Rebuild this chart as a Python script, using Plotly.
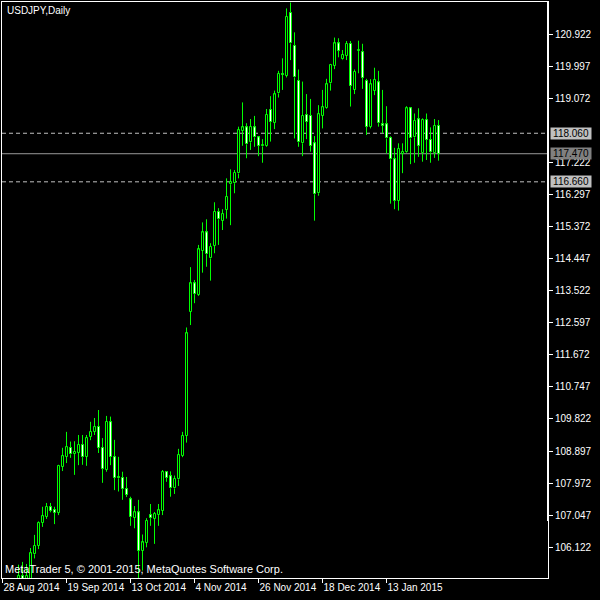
import plotly.graph_objects as go

# ---- data ----
first_bar = 4  # bars 0..3 (28 Aug - 2 Sep) lie below the visible price range
opens = [105.05, 105.30, 105.10, 105.10, 105.92, 106.16, 106.82, 107.00, 107.28, 107.20,
         107.11, 108.45, 108.73, 108.99, 108.81, 108.84, 109.07, 108.73, 109.31, 109.45,
         109.59, 108.99, 108.35, 109.73, 108.72, 108.15, 108.12, 107.80, 107.50, 106.97,
         107.13, 106.02, 106.25, 107.05, 106.94, 107.05, 107.18, 108.29, 108.17, 107.82,
         108.08, 108.76, 109.33, 112.92, 113.73, 113.40, 114.67, 115.20, 114.45, 114.81,
         115.80, 115.54, 115.85, 116.59, 116.62, 116.90, 118.13, 118.23, 117.80, 118.23,
         117.94, 117.68, 117.70, 118.73, 118.37, 119.21, 119.77, 119.72, 121.54, 120.59,
         119.58, 117.77, 118.59, 118.57, 117.77, 116.33, 118.57, 118.78, 119.50, 120.01,
         120.65, 120.19, 120.30, 120.64, 119.31, 120.43, 120.40, 119.57, 118.25, 119.28,
         119.53, 118.32, 118.32, 117.93, 117.31, 116.11, 117.47, 117.53, 118.78, 117.94,
         118.46, 117.48, 118.44, 117.87, 117.50, 118.28]
highs = [105.62, 105.70, 105.64, 106.10, 106.48, 106.87, 107.29, 107.40, 107.40, 107.29,
         108.50, 108.99, 109.45, 109.17, 109.18, 109.36, 109.36, 109.36, 109.74, 109.85,
         110.08, 109.27, 109.91, 109.89, 109.22, 108.73, 108.30, 108.15, 107.58, 107.31,
         107.49, 106.49, 106.96, 107.37, 107.14, 107.37, 108.35, 108.31, 108.31, 108.19,
         108.96, 109.45, 112.46, 114.20, 113.83, 114.84, 115.49, 115.58, 114.89, 116.07,
         115.90, 115.87, 116.76, 117.02, 117.00, 118.25, 118.95, 118.35, 118.47, 118.56,
         117.98, 117.89, 118.76, 119.13, 119.29, 119.86, 120.22, 121.66, 121.83, 120.97,
         119.90, 119.55, 119.19, 119.05, 117.98, 118.87, 119.31, 119.63, 120.06, 120.82,
         120.80, 120.46, 120.72, 120.72, 119.90, 120.73, 120.64, 119.63, 119.62, 119.95,
         119.86, 119.31, 118.84, 117.97, 117.64, 117.77, 117.77, 118.84, 118.81, 118.63,
         118.78, 118.49, 118.63, 118.23, 118.47, 118.44]
lows = [104.75, 104.85, 104.90, 104.95, 105.80, 106.07, 106.71, 106.94, 107.13, 106.79,
        107.05, 108.32, 108.55, 108.70, 108.21, 108.49, 108.50, 108.47, 109.21, 109.36,
        108.84, 107.98, 108.30, 108.49, 107.77, 107.73, 107.49, 107.57, 106.74, 106.67,
        105.22, 105.45, 106.12, 106.74, 106.22, 106.74, 107.05, 108.01, 107.58, 107.66,
        107.89, 108.72, 109.14, 112.53, 113.16, 113.37, 114.04, 114.21, 113.81, 114.60,
        114.84, 115.27, 115.60, 115.41, 116.33, 116.76, 117.70, 117.34, 117.58, 117.67,
        117.40, 117.21, 117.67, 117.82, 118.18, 119.09, 119.31, 119.67, 120.17, 117.91,
        117.67, 117.40, 117.89, 117.53, 115.54, 116.26, 118.20, 118.76, 119.29, 119.91,
        120.25, 120.17, 120.17, 118.83, 119.19, 119.79, 119.34, 118.01, 118.20, 119.16,
        118.25, 118.06, 117.48, 116.03, 115.87, 115.83, 116.91, 117.50, 117.17, 117.21,
        117.38, 117.24, 117.29, 117.21, 117.35, 117.27]
closes = [105.30, 105.10, 105.30, 105.95, 106.17, 106.82, 107.02, 107.29, 107.17, 107.12,
          108.47, 108.75, 109.01, 108.80, 108.88, 109.07, 108.72, 109.27, 109.45, 109.59,
          108.99, 108.38, 109.74, 108.72, 108.13, 108.11, 107.80, 107.63, 106.99, 107.13,
          106.02, 106.26, 106.88, 106.96, 107.08, 107.19, 108.29, 108.13, 107.82, 108.09,
          108.78, 109.33, 112.29, 113.73, 113.42, 114.71, 115.20, 114.57, 114.79, 115.80,
          115.58, 115.73, 116.23, 116.65, 116.92, 118.15, 118.23, 117.74, 118.25, 117.94,
          117.70, 117.72, 118.59, 118.38, 119.18, 119.77, 119.74, 121.42, 120.65, 119.67,
          117.80, 118.57, 118.39, 117.70, 116.30, 118.61, 118.81, 119.47, 120.03, 120.65,
          120.44, 120.32, 120.64, 119.43, 119.84, 120.47, 119.66, 118.25, 119.47, 119.60,
          118.35, 118.28, 117.91, 117.31, 116.11, 117.61, 117.52, 118.78, 117.91, 118.42,
          117.70, 118.44, 117.87, 117.51, 118.27, 117.47]

tick_bars = [0, 16, 32, 48, 64, 80, 96]
tick_dates = ["28 Aug 2014", "19 Sep 2014", "13 Oct 2014", "4 Nov 2014",
              "26 Nov 2014", "18 Dec 2014", "13 Jan 2015"]
price_ticks = [106.122, 107.047, 107.972, 108.897, 109.822, 110.747, 111.672, 112.597,
               113.522, 114.447, 115.372, 116.297, 117.222, 119.072, 119.997, 120.922]
level_upper = 118.060
level_last = 117.470
level_lower = 116.660
symbol_title = "USDJPY,Daily"
copyright_text = "MetaTrader 5, \u00a9 2001-2015, MetaQuotes Software Corp."

# ---- build ----
GREEN = "#00ff00"
bars_x = list(range(first_bar, first_bar + len(opens)))

body_top = [max(o, c) for o, c in zip(opens, closes)]
body_bot = [min(o, c) for o, c in zip(opens, closes)]

# wicks split above / below the body so the body interior stays visible
wick_x, wick_y = [], []
for k, h, l, t, b in zip(bars_x, highs, lows, body_top, body_bot):
    wick_x += [k, k, None, k, k, None]
    wick_y += [t, h, None, l, b, None]

size = [t - b for t, b in zip(body_top, body_bot)]
fills = ["#000000" if c >= o else "#ffffff" for o, c in zip(opens, closes)]

fig = go.Figure()
fig.add_trace(go.Scatter(x=wick_x, y=wick_y, mode="lines",
                         line=dict(color=GREEN, width=1), hoverinfo="skip"))
fig.add_trace(go.Bar(x=bars_x, y=size, base=body_bot, width=0.5,
                     marker=dict(color=fills, line=dict(color=GREEN, width=1))))

AX = "Liberation Sans, Arial, sans-serif"
AXS = 10

fig.update_layout(
    width=600, height=600,
    margin=dict(l=2, r=52, t=2, b=22),
    paper_bgcolor="#000000", plot_bgcolor="#000000",
    showlegend=False, barmode="overlay", bargap=0,
    xaxis=dict(range=[-0.125, 136.375], tickvals=tick_bars, ticktext=tick_dates,
               ticks="outside", ticklen=4, tickcolor="#ffffff", tickangle=0,
               showline=True, linecolor="#ffffff", linewidth=1, mirror=True,
               showgrid=False, zeroline=False, ticklabelposition="outside right",
               automargin=False,
               tickfont=dict(color="#ffffff", size=AXS, family=AX)),
    yaxis=dict(side="right", range=[105.236, 121.845], tickvals=price_ticks,
               ticktext=[f"{v:.3f}" for v in price_ticks],
               ticks="outside", ticklen=4, tickcolor="#ffffff",
               showline=True, linecolor="#ffffff", linewidth=1, mirror=True,
               showgrid=False, zeroline=False, automargin=False,
               tickfont=dict(color="#ffffff", size=AXS, family=AX)),
)

for lvl, dash, col in [(level_upper, "4px,3px", "#c0c0c0"),
                       (level_lower, "4px,3px", "#c0c0c0"),
                       (level_last, "solid", "#999999")]:
    fig.add_shape(type="line", xref="paper", x0=0, x1=1, yref="y", y0=lvl, y1=lvl,
                  line=dict(color=col, width=1, dash=dash), layer="below")

fig.add_shape(type="line", xref="paper", x0=1, x1=1, yref="paper", y0=0.099, y1=1,
              line=dict(color="#ffffff", width=2))

for lvl, bg in [(level_upper, "#c0c0c0"), (level_last, "#808080"), (level_lower, "#c0c0c0")]:
    fig.add_annotation(xref="paper", x=1, xanchor="left", xshift=2, yref="y", y=lvl,
                       text=f"{lvl:.3f}", showarrow=False, bgcolor=bg, borderpad=0,
                       width=40, height=11,
                       font=dict(color="#000000", size=AXS, family=AX))

fig.add_annotation(xref="paper", x=0, xanchor="left", xshift=3, yref="paper", y=1,
                   yanchor="top", yshift=-1, text=symbol_title, showarrow=False,
                   font=dict(color="#ffffff", size=AXS, family=AX))
fig.add_annotation(xref="paper", x=0, xanchor="left", xshift=1, yref="paper", y=0,
                   yanchor="bottom", yshift=1, text=copyright_text, showarrow=False,
                   font=dict(color="#ffffff", size=11, family=AX))

fig.write_html("out.html", config={"displayModeBar": False},
               post_script="document.body.style.margin='0';document.body.style.overflow='hidden';")
